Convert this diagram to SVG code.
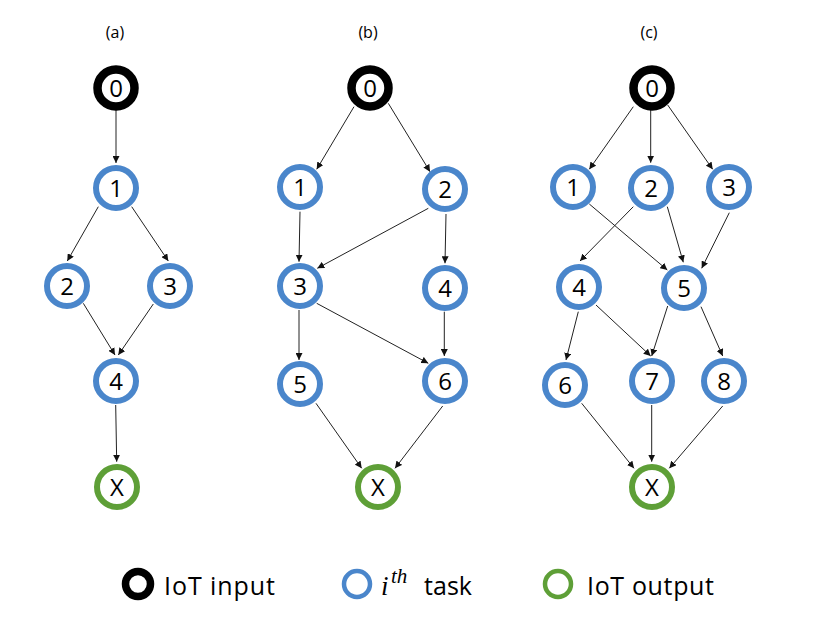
<svg xmlns="http://www.w3.org/2000/svg" width="817" height="618" viewBox="0 0 817 618">
<defs>
<marker id="ah" viewBox="0 0 10 10" refX="10" refY="5" markerWidth="7" markerHeight="7" markerUnits="userSpaceOnUse" orient="auto">
<path d="M0,0 L10,5 L0,10 z" fill="#111"/>
</marker>
<filter id="soft" x="-30%" y="-30%" width="160%" height="160%">
<feGaussianBlur stdDeviation="0.6"/>
</filter>
<style>
.e{stroke:#222;stroke-width:1;fill:none;marker-end:url(#ah)}
.blue{fill:#fff;stroke:#4A86CB;stroke-width:6}
.green{fill:#fff;stroke:#5E9F37;stroke-width:6}
.blk{fill:#fff;stroke:#000;stroke-width:8.5;filter:url(#soft)}
.t{font-family:"Open Sans","Liberation Sans",sans-serif;font-size:24px;fill:#000;text-anchor:middle}
.ttl{font-family:"Open Sans","Liberation Sans",sans-serif;font-size:16px;fill:#000;text-anchor:middle}
.lg{font-family:"Open Sans","Liberation Sans",sans-serif;font-size:25px;fill:#000}
</style>
</defs>
<rect width="817" height="618" fill="#fff"/>
<text class="ttl" x="115" y="38">(a)</text>
<text class="ttl" x="368" y="38">(b)</text>
<text class="ttl" x="649" y="38">(c)</text>
<g id="connectors">
<line class="e" x1="116" y1="110" x2="116" y2="163"/>
<line class="e" x1="98.3" y1="206.7" x2="67.3" y2="261"/>
<line class="e" x1="131.7" y1="206.7" x2="168.3" y2="261"/>
<line class="e" x1="83.3" y1="303.3" x2="115" y2="355"/>
<line class="e" x1="153.3" y1="304" x2="118.3" y2="355"/>
<line class="e" x1="115.7" y1="405" x2="116.7" y2="461.7"/>
<line class="e" x1="354" y1="106.7" x2="316.7" y2="169.3"/>
<line class="e" x1="388.3" y1="103.3" x2="430" y2="171.7"/>
<line class="e" x1="300" y1="211.7" x2="299" y2="261.7"/>
<line class="e" x1="428.3" y1="208.3" x2="317.3" y2="268.3"/>
<line class="e" x1="446" y1="214" x2="445" y2="263.3"/>
<line class="e" x1="299" y1="310" x2="299" y2="360"/>
<line class="e" x1="316.7" y1="303.3" x2="428.3" y2="363.3"/>
<line class="e" x1="444.3" y1="311.7" x2="444.3" y2="356"/>
<line class="e" x1="316" y1="403.3" x2="361.7" y2="468.3"/>
<line class="e" x1="442.7" y1="406" x2="395" y2="468.3"/>
<line class="e" x1="633.3" y1="106.7" x2="589.3" y2="169.3"/>
<line class="e" x1="650.7" y1="110" x2="650.7" y2="162.7"/>
<line class="e" x1="667.7" y1="105" x2="712.7" y2="169.3"/>
<line class="e" x1="589.3" y1="204" x2="667.3" y2="270"/>
<line class="e" x1="633.3" y1="206.7" x2="580" y2="261"/>
<line class="e" x1="667.3" y1="206.7" x2="683.3" y2="262.3"/>
<line class="e" x1="729.3" y1="212.7" x2="701.7" y2="268.3"/>
<line class="e" x1="578.3" y1="311.7" x2="566" y2="360"/>
<line class="e" x1="596" y1="305" x2="650.7" y2="356"/>
<line class="e" x1="667.7" y1="306" x2="651.7" y2="356"/>
<line class="e" x1="701" y1="306.7" x2="722.7" y2="356"/>
<line class="e" x1="581.7" y1="403.3" x2="634" y2="468.3"/>
<line class="e" x1="651.7" y1="405" x2="651.7" y2="461.7"/>
<line class="e" x1="722.7" y1="406" x2="669.3" y2="468.3"/>
</g>
<g id="a0"><circle class="blk" cx="116" cy="88" r="18.5"/><text class="t" x="116" y="96.5">0</text></g>
<g id="a1"><circle class="blue" cx="116" cy="188" r="20"/><text class="t" x="116" y="196.5">1</text></g>
<g id="a2"><circle class="blue" cx="67" cy="286" r="20"/><text class="t" x="67" y="294.5">2</text></g>
<g id="a3"><circle class="blue" cx="170" cy="286" r="20"/><text class="t" x="170" y="294.5">3</text></g>
<g id="a4"><circle class="blue" cx="116" cy="381" r="20"/><text class="t" x="116" y="389.5">4</text></g>
<g id="aX"><circle class="green" cx="117" cy="487" r="20"/><text class="t" x="117" y="495.5">X</text></g>
<g id="b0"><circle class="blk" cx="370" cy="88" r="18.5"/><text class="t" x="370" y="96.5">0</text></g>
<g id="b1"><circle class="blue" cx="300" cy="187" r="20"/><text class="t" x="300" y="195.5">1</text></g>
<g id="b2"><circle class="blue" cx="445" cy="189" r="20"/><text class="t" x="445" y="197.5">2</text></g>
<g id="b3"><circle class="blue" cx="300" cy="286" r="20"/><text class="t" x="300" y="294.5">3</text></g>
<g id="b4"><circle class="blue" cx="445" cy="288" r="20"/><text class="t" x="445" y="296.5">4</text></g>
<g id="b5"><circle class="blue" cx="300" cy="384" r="20"/><text class="t" x="300" y="392.5">5</text></g>
<g id="b6"><circle class="blue" cx="445" cy="381" r="20"/><text class="t" x="445" y="389.5">6</text></g>
<g id="bX"><circle class="green" cx="378" cy="487" r="20"/><text class="t" x="378" y="495.5">X</text></g>
<g id="c0"><circle class="blk" cx="652" cy="88" r="18.5"/><text class="t" x="652" y="96.5">0</text></g>
<g id="c1"><circle class="blue" cx="573" cy="187" r="20"/><text class="t" x="573" y="195.5">1</text></g>
<g id="c2"><circle class="blue" cx="651" cy="188" r="20"/><text class="t" x="651" y="196.5">2</text></g>
<g id="c3"><circle class="blue" cx="729" cy="187" r="20"/><text class="t" x="729" y="195.5">3</text></g>
<g id="c4"><circle class="blue" cx="579" cy="287" r="20"/><text class="t" x="579" y="295.5">4</text></g>
<g id="c5"><circle class="blue" cx="684" cy="288" r="20"/><text class="t" x="684" y="296.5">5</text></g>
<g id="c6"><circle class="blue" cx="565" cy="385" r="20"/><text class="t" x="565" y="393.5">6</text></g>
<g id="c7"><circle class="blue" cx="652" cy="381" r="20"/><text class="t" x="652" y="389.5">7</text></g>
<g id="c8"><circle class="blue" cx="724" cy="381" r="20"/><text class="t" x="724" y="389.5">8</text></g>
<g id="cX"><circle class="green" cx="652" cy="487" r="20"/><text class="t" x="652" y="495.5">X</text></g>
<g id="legend-input"><circle class="blk" cx="138" cy="584" r="12.5" style="stroke-width:7.5"/><text class="lg" x="164" y="595" textLength="111">IoT input</text></g>
<g id="legend-task"><circle class="blue" cx="357" cy="584" r="13" style="stroke-width:4.5"/><text x="381" y="595" style="font-family:'Liberation Serif',serif;font-style:italic;font-size:27px">i</text><text x="391" y="583" style="font-family:'Liberation Serif',serif;font-style:italic;font-size:21px">th</text><text class="lg" x="424" y="595" textLength="48">task</text></g>
<g id="legend-output"><circle class="green" cx="558" cy="584" r="13" style="stroke-width:4.5"/><text class="lg" x="587" y="595" textLength="127">IoT output</text></g>
</svg>
